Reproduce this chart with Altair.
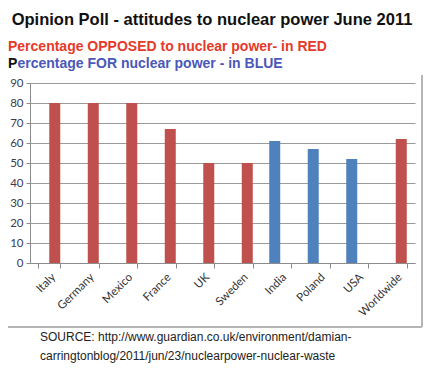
import altair as alt
import pandas as pd

countries = ["Italy", "Germany", "Mexico", "France", "UK", "Sweden", "India", "Poland", "USA", "Worldwide"]
values = [80, 80, 80, 67, 50, 50, 61, 57, 52, 62]
stance = ["Opposed", "Opposed", "Opposed", "Opposed", "Opposed", "Opposed", "For", "For", "For", "Opposed"]
y_ticks = [0, 10, 20, 30, 40, 50, 60, 70, 80, 90]

title_text = "Opinion Poll - attitudes to nuclear power June 2011"
red_text = "Percentage OPPOSED to nuclear power- in RED"
blue_p = "P"
blue_text = "ercentage FOR nuclear power - in BLUE"
source_1 = "SOURCE: http://www.guardian.co.uk/environment/damian-"
source_2 = "carringtonblog/2011/jun/23/nuclearpower-nuclear-waste"

df = pd.DataFrame({"country": countries, "value": values, "stance": stance})

W, H = 385, 180

bars = alt.Chart(df).mark_bar(size=11).encode(
    x=alt.X("country:N", sort=countries, title=None,
            scale=alt.Scale(paddingInner=0.427, paddingOuter=0.2135),
            axis=alt.Axis(labelAngle=-45, labelFont="Lato", labelFontSize=11.5,
                          labelColor="#333333", tickBand="extent", tickSize=5,
                          tickColor="#8c8c8c", domainColor="#8c8c8c", grid=False,
                          labelPadding=3)),
    xOffset=alt.XOffset("stance:N", sort=["For", "Opposed"],
                        scale=alt.Scale(domain=["For", "Opposed"], paddingInner=0, paddingOuter=0)),
    y=alt.Y("value:Q", title=None,
            scale=alt.Scale(domain=[0, 90], nice=False),
            axis=alt.Axis(values=y_ticks, labelFont="Lato", labelFontSize=11.5,
                          labelColor="#3c3c4c", tickSize=4, tickColor="#8c8c8c",
                          domainColor="#8c8c8c", gridColor="#9a9a9a", gridWidth=1.2,
                          labelPadding=3)),
    color=alt.Color("stance:N", legend=None,
                    scale=alt.Scale(domain=["Opposed", "For"], range=["#c0504d", "#4f81bd"])),
)

one = alt.Data(values=[{"a": 1}])

def txt(s, x, y, size, color, weight="normal", align="left"):
    return alt.Chart(one).mark_text(
        text=s, align=align, baseline="alphabetic", fontSize=size, fontWeight=weight,
        color=color, font="Liberation Sans"
    ).encode(x=alt.value(x), y=alt.value(y))

layers = [
    bars,
    txt(title_text, 182, -58, 16.5, "#111111", "bold", "center"),
    txt(red_text, -22, -32, 14, "#e53a2a", "bold"),
    txt(blue_p, -22, -15, 14, "#111111", "bold"),
    txt(blue_text, -12.6, -15, 14, "#4a58b8", "bold"),
    txt(source_1, 10, 258, 12, "#222222"),
    txt(source_2, 10, 277, 12, "#222222"),
    alt.Chart(one).mark_rule(color="#b5b5b5", strokeWidth=2).encode(
        x=alt.value(392), y=alt.value(-8), y2=alt.value(244)),
    alt.Chart(one).mark_rule(color="#b5b5b5", strokeWidth=2).encode(
        x=alt.value(-22), x2=alt.value(392), y=alt.value(244)),
]

chart = alt.layer(*layers).properties(
    width=W, height=H,
    autosize=alt.AutoSizeParams(type="none"),
    padding={"left": 22, "top": 75, "right": 9, "bottom": 107},
).configure_view(stroke=None)

chart.save("out.html", embed_options={"renderer": "svg", "actions": False})
